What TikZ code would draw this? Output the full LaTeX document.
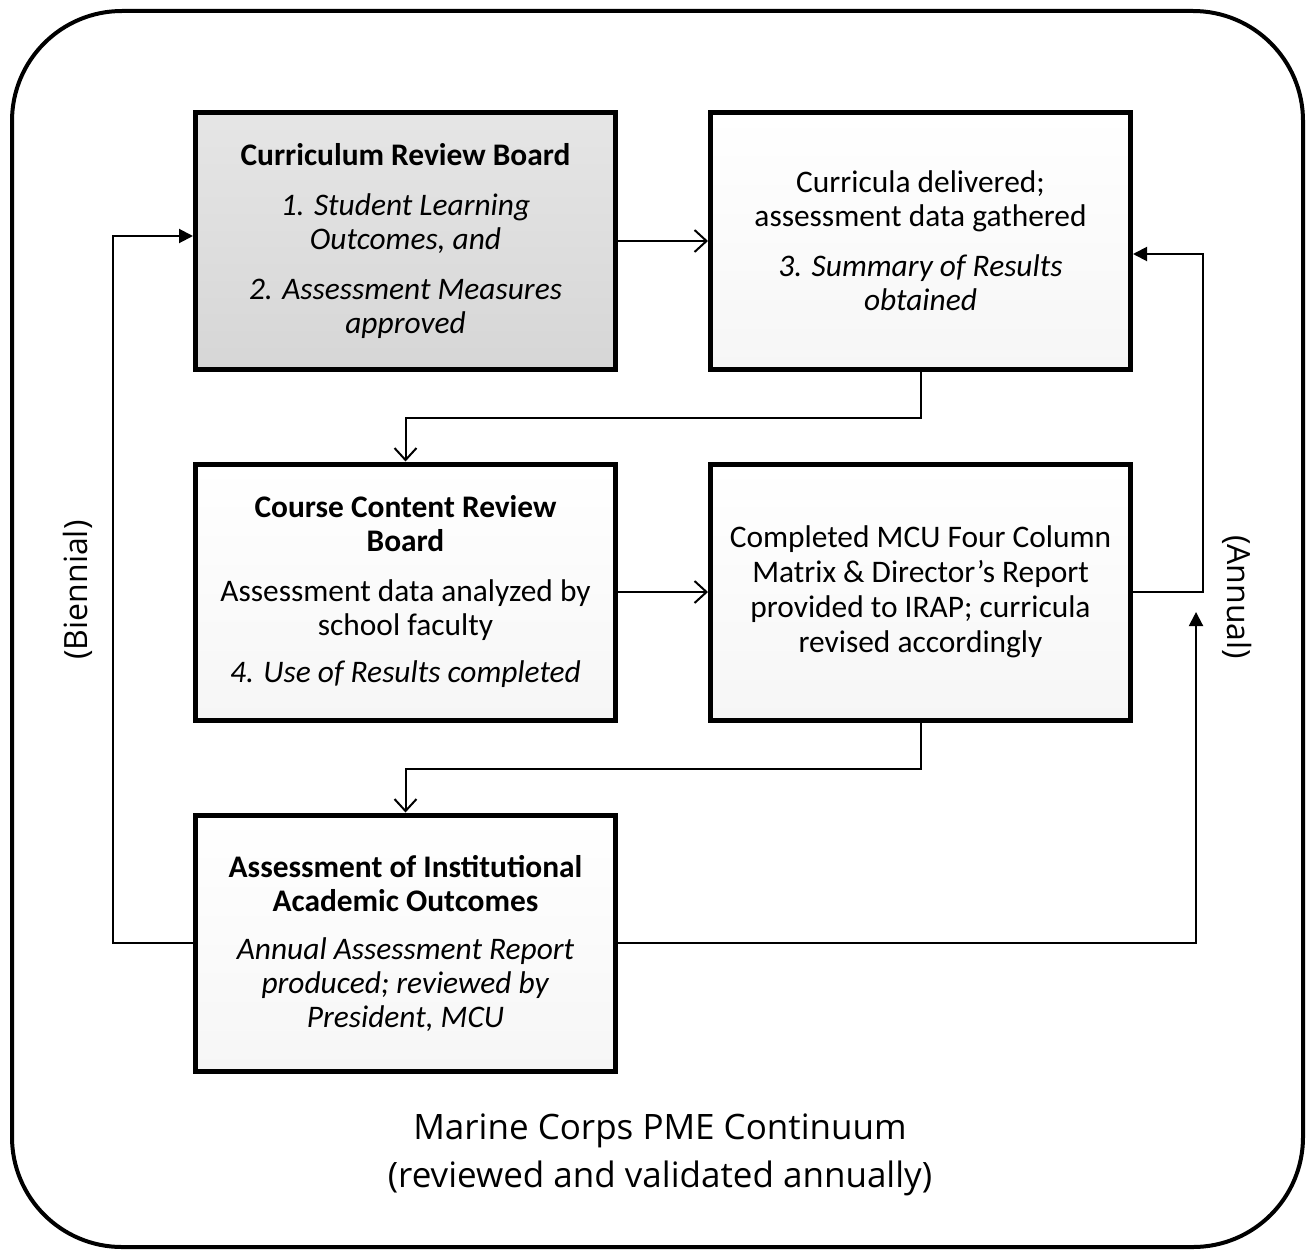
\documentclass[tikz,border=0pt]{standalone}
\usepackage{fontspec}
\setmainfont{Carlito}
\newfontfamily\segoe{Open Sans}
\usetikzlibrary{arrows.meta,positioning,shadows}

\begin{document}
\begin{tikzpicture}[x=0.5pt,y=-0.5pt,node distance=45pt,
    every node/.style={align=center}]
  \tikzstyle{boxW}=[rectangle,line width=2.5pt,draw=black,minimum width=210pt,minimum height=128pt,
      top color=white,bottom color=gray!7,
      drop shadow={shadow xshift=0.8pt,shadow yshift=-1.6pt,fill=black,opacity=1},
      font=\fontsize{15.7}{17}\selectfont]
  \tikzstyle{boxG}=[boxW,top color=gray!20,bottom color=gray!32]
  \tikzstyle{openArr}=[-{Straight Barb[length=6pt,width=11pt]},line width=1pt]
  \tikzstyle{fillArr}=[-{Triangle[length=7pt,width=7pt]},line width=1pt]
  \tikzstyle{sideLbl}=[font=\segoe\fontsize{16}{19}\selectfont]

  \useasboundingbox (0,0) rectangle (1309,1257);

  % Outer frame
  \draw[line width=2pt,rounded corners=55pt] (12,11) rectangle (1303,1247);

  % Boxes
  \node[boxG] (crb) at (405.5,241)
    {\textbf{Curriculum Review Board}\\[8pt]
     \textit{1. Student Learning}\\ \textit{Outcomes, and}\\[8pt]
     \textit{2. Assessment Measures}\\ \textit{approved}};
  \node[boxW, right=of crb] (deliv)
    {Curricula delivered;\\ assessment data gathered\\[8pt]
     \textit{3. Summary of Results}\\ \textit{obtained}};
  \node[boxW, below=of crb] (ccrb)
    {\textbf{Course Content Review}\\ \textbf{Board}\\[8pt]
     Assessment data analyzed by\\ school faculty\\[6.5pt]
     \textit{4. Use of Results completed}};
  \node[boxW, below=of deliv] (mcu)
    {Completed MCU Four Column\\[0.5pt] Matrix \& Director's Report\\[0.5pt]
     provided to IRAP; curricula\\[0.5pt] revised accordingly};
  \node[boxW, below=of ccrb] (aiao)
    {\textbf{Assessment of Institutional}\\ \textbf{Academic Outcomes}\\[7pt]
     \textit{Annual Assessment Report}\\ \textit{produced; reviewed by}\\
     \textit{President, MCU}};

  % Side labels and caption
  \node[sideLbl, rotate=90]  (bienn)  at (78,590)   {(Biennial)};
  \node[sideLbl, rotate=-90] (annual) at (1237,597) {(Annual)};
  \node[font=\segoe\fontsize{17.5}{24}\selectfont] (caption) at (660,1155)
    {Marine Corps PME Continuum\\ (reviewed and validated annually)};

  % Connectors
  \coordinate (annTip) at (1196,612);
  \draw[openArr] (crb) -- (deliv);
  \draw[openArr] (deliv.south) -- ++(0,-23pt) -| (ccrb.north);
  \draw[openArr] (ccrb) -- (mcu);
  \draw[openArr] (mcu.south) -- ++(0,-23pt) -| (aiao.north);
  \draw[fillArr] (aiao.west) -- ++(-40pt,0) |- ([yshift=2.5pt]crb.west);
  \draw[fillArr] (aiao.east) -| (annTip);
  \draw[fillArr] (mcu.east) -- ++(35pt,0) |- ([yshift=-6.5pt]deliv.east);
\end{tikzpicture}
\end{document}
